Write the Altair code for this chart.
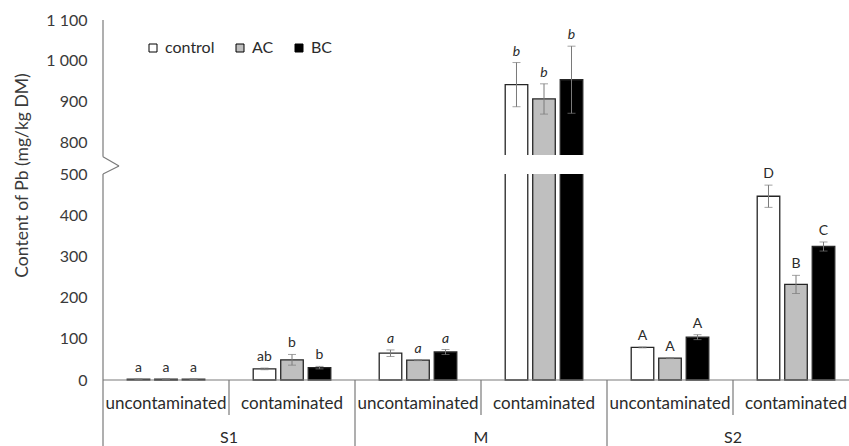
import altair as alt
import pandas as pd

# --- data -------------------------------------------------------------
groups = ["S1", "M", "S2"]
conditions = ["uncontaminated", "contaminated"]
treatments = ["control", "AC", "BC"]
treatment_colors = ["#ffffff", "#bfbfbf", "#000000"]

# Pb content (mg/kg DM), order: S1-unc, S1-con, M-unc, M-con, S2-unc, S2-con
pb_control = [2, 27, 65, 942, 79, 446]
pb_ac = [2, 49, 48, 907, 53, 232]
pb_bc = [2, 30, 68, 954, 104, 324]
sd_control = [0.5, 2, 8, 54, 1, 27]
sd_ac = [0.5, 13, 1, 37, 1, 22]
sd_bc = [0.5, 3, 6, 82, 6, 11]
letters_control = ["a", "ab", "a", "b", "A", "D"]
letters_ac = ["a", "b", "a", "b", "A", "B"]
letters_bc = ["a", "b", "a", "b", "A", "C"]

y_ticks = [0, 100, 200, 300, 400, 500, 800, 900, 1000, 1100]
axis_break = [500, 770]          # values hidden by the broken axis
zigzag = [500, 614, 745]         # axis-break glyph: start, tip, end

# --- tables -----------------------------------------------------------
sub_keys = [f"{g}|{c}" for g in groups for c in conditions]
means = {"control": pb_control, "AC": pb_ac, "BC": pb_bc}
sds = {"control": sd_control, "AC": sd_ac, "BC": sd_bc}
letters = {"control": letters_control, "AC": letters_ac, "BC": letters_bc}

rows = []
for i, key in enumerate(sub_keys):
    g, c = key.split("|")
    for t in treatments:
        m, s = means[t][i], sds[t][i]
        rows.append(dict(sub=key, group=g, cond=c, treatment=t, mean=m,
                         lo=m - s, hi=m + s, letter=letters[t][i]))
df = pd.DataFrame(rows)

subs = pd.DataFrame({"sub": sub_keys,
                     "group": [k.split("|")[0] for k in sub_keys],
                     "cond": [k.split("|")[1] for k in sub_keys]})

# --- scales -----------------------------------------------------------
xscale = alt.Scale(domain=sub_keys, range=[0, 756], paddingInner=0, paddingOuter=0)
offscale = alt.Scale(domain=treatments, paddingInner=0.18, paddingOuter=0.88)
yscale = alt.Scale(domain=[0, axis_break[0], axis_break[1], 1100],
                   range=[360, 154, 135, 0], nice=False, zero=False)

FONT = "Lato"
TXT = "#2b2b2b"
AX = "#7a7a7a"

X = alt.X("sub:N", scale=xscale, axis=None)
XO = alt.XOffset("treatment:N", scale=offscale)

yaxis = alt.Axis(values=y_ticks,
                 labelExpr="replace(format(datum.value, ','), ',', ' ')",
                 labelOverlap=False, labelBound=False,
                 domain=False, ticks=False, grid=False, labelPadding=16,
                 labelFont=FONT, labelFontSize=16, labelColor="#3a3a3a",
                 title="Content of Pb (mg/kg DM)", titleFont=FONT,
                 titleFontSize=17.5, titleFontWeight="normal", titleColor="#3a3a3a",
                 titleX=-72, titleY=155)


def Yq(field):
    # every layer carries the same y scale and axis definition
    return alt.Y(field, scale=yscale, axis=yaxis)


base = alt.Chart(df)

bars = base.mark_bar(stroke="#262626", strokeWidth=1.3).encode(
    x=X, xOffset=XO,
    y=Yq("mean:Q"),
    fill=alt.Fill("treatment:N",
                  scale=alt.Scale(domain=treatments, range=treatment_colors),
                  legend=alt.Legend(orient="none", legendX=42, legendY=20,
                                    direction="horizontal", title=None,
                                    symbolType="square", symbolSize=64,
                                    symbolStrokeColor="#000000", symbolStrokeWidth=1,
                                    labelFont=FONT, labelFontSize=16,
                                    labelColor=TXT, labelOffset=4,
                                    columnPadding=17)),
)

err = base.mark_rule(color=AX, strokeWidth=1).encode(
    x=X, xOffset=XO, y=Yq("lo:Q"), y2="hi:Q")
cap_hi = base.mark_tick(color=AX, thickness=1, size=8).encode(x=X, xOffset=XO, y=Yq("hi:Q"))
cap_lo = base.mark_tick(color=AX, thickness=1, size=8).encode(x=X, xOffset=XO, y=Yq("lo:Q"))

# white band that cuts the bars at the axis break
gap = alt.Chart(pd.DataFrame({"lo": [axis_break[0]], "hi": [axis_break[1]]})).mark_rect(
    color="white").encode(x=alt.value(0), x2=alt.value(760), y=Yq("lo:Q"), y2="hi:Q")

# broken y-axis line
seg = pd.DataFrame({"lo": [0, zigzag[2]], "hi": [axis_break[0], 1100]})
yline = alt.Chart(seg).mark_rule(color=AX, strokeWidth=1.2).encode(
    x=alt.value(0), y=Yq("lo:Q"), y2="hi:Q")
zz = pd.DataFrame({"a": [zigzag[0]], "b": [zigzag[1]], "c": [zigzag[2]]})
zig1 = alt.Chart(zz).mark_rule(color=AX, strokeWidth=1.2).encode(
    x=alt.value(0), x2=alt.value(16), y=Yq("a:Q"), y2="b:Q")
zig2 = alt.Chart(zz).mark_rule(color=AX, strokeWidth=1.2).encode(
    x=alt.value(16), x2=alt.value(0), y=Yq("b:Q"), y2="c:Q")
ybelow = alt.Chart(pd.DataFrame({"z": [0]})).mark_rule(color=AX, strokeWidth=1.2).encode(
    x=alt.value(0), y=Yq("z:Q"), y2=alt.value(430))

# x baseline
xline = alt.Chart(pd.DataFrame({"z": [0]})).mark_rule(color=AX, strokeWidth=1.2).encode(
    x=alt.value(0), x2=alt.value(760), y=Yq("z:Q"))

# category separators and labels below the baseline
sub_sep = alt.Chart(subs).transform_filter("datum.cond == 'contaminated'").mark_rule(
    color=AX, strokeWidth=1.2).encode(
    x=alt.X("sub:N", scale=xscale, axis=None, bandPosition=0),
    y=alt.value(360), y2=alt.value(395))
main_sep = alt.Chart(subs).transform_filter(
    "datum.cond == 'uncontaminated' && datum.group != 'S1'").mark_rule(
    color=AX, strokeWidth=1.2).encode(
    x=alt.X("sub:N", scale=xscale, axis=None, bandPosition=0),
    y=alt.value(360), y2=alt.value(430))
cond_lbl = alt.Chart(subs).mark_text(font=FONT, fontSize=17, color=TXT,
                                     baseline="middle").encode(
    x=alt.X("sub:N", scale=xscale, axis=None, bandPosition=0.5),
    y=alt.value(384), text="cond:N")
group_lbl = alt.Chart(subs).transform_filter("datum.cond == 'contaminated'").mark_text(
    font=FONT, fontSize=16, color=TXT, baseline="middle").encode(
    x=alt.X("sub:N", scale=xscale, axis=None, bandPosition=0),
    y=alt.value(418), text="group:N")

# significance letters (italic for the M site)
let_up = base.transform_filter("datum.group != 'M'").mark_text(
    font=FONT, fontSize=14, color=TXT, baseline="alphabetic", dy=-7).encode(
    x=X, xOffset=XO, y=Yq("hi:Q"), text="letter:N")
let_it = base.transform_filter("datum.group == 'M'").mark_text(
    font=FONT, fontSize=14, fontStyle="italic", color=TXT,
    baseline="alphabetic", dy=-7).encode(
    x=X, xOffset=XO, y=Yq("hi:Q"), text="letter:N")

chart = alt.layer(
    bars, err, cap_hi, cap_lo, gap, yline, zig1, zig2, ybelow, xline,
    sub_sep, main_sep, cond_lbl, group_lbl, let_up, let_it
).properties(
    width=746, height=360,
    autosize=alt.AutoSizeParams(type="none"),
    padding={"left": 103, "top": 20, "right": 0, "bottom": 66},
).configure_view(stroke=None).configure_axisY(labelOverlap=False)

chart.save("out.html", embed_options={"renderer": "svg", "actions": False})
